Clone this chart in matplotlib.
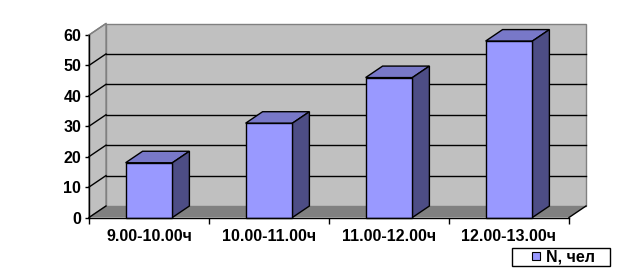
import matplotlib
matplotlib.use("Agg")
import matplotlib.pyplot as plt
from matplotlib.patches import Polygon, Rectangle
from matplotlib.lines import Line2D

# ---- data ----
categories = ["9.00-10.00ч", "10.00-11.00ч", "11.00-12.00ч", "12.00-13.00ч"]
values = [18, 31, 46, 58]
series_name = "N, чел"
yticks = [0, 10, 20, 30, 40, 50, 60]

# ---- style ----
plt.rcParams['font.family'] = ['Liberation Sans', 'DejaVu Sans']
FRONT = '#9999ff'
TOP = '#7878c8'
SIDE = '#4d4d85'
WALL = '#c0c0c0'
FLOOR = '#808080'
FS = 11.5

W, H = 634, 272
fig = plt.figure(figsize=(W / 100, H / 100), dpi=100)
ax_l, ax_r, ax_b, ax_t = 89, 569, 217.5, 35
ax = fig.add_axes([ax_l / W, (H - ax_b) / H, (ax_r - ax_l) / W, (ax_b - ax_t) / H])
n = len(categories)
ymax = yticks[-1]
ax.set_xlim(0, n)
ax.set_ylim(0, ymax)

# depth offset in pixels -> data units
DX_PX, DY_PX = 17, 11.5
ddx = DX_PX * n / (ax_r - ax_l)
ddy = DY_PX * ymax / (ax_b - ax_t)

# walls
back = Polygon([(ddx, ddy), (n + ddx, ddy), (n + ddx, ymax + ddy), (ddx, ymax + ddy)],
               closed=True, facecolor=WALL, edgecolor='#808080', lw=1.0, clip_on=False, zorder=1)
ax.add_patch(back)
left = Polygon([(0, 0), (ddx, ddy), (ddx, ymax + ddy), (0, ymax)],
               closed=True, facecolor=WALL, edgecolor='#808080', lw=1.0, clip_on=False, zorder=1)
ax.add_patch(left)

# gridlines
for v in yticks[1:-1]:
    ax.plot([ddx, n + ddx], [v + ddy, v + ddy], color='black', lw=1.0, clip_on=False, zorder=2)
    ax.plot([0, ddx], [v, v + ddy], color='black', lw=1.0, clip_on=False, zorder=2)
ax.plot([0, ddx], [ymax, ymax + ddy], color='#808080', lw=1.0, clip_on=False, zorder=2)

# floor
floor = Polygon([(0, 0), (n, 0), (n + ddx, ddy), (ddx, ddy)],
                closed=True, facecolor=FLOOR, edgecolor='none', clip_on=False, zorder=3)
ax.add_patch(floor)
ax.plot([n, n + ddx], [0, ddy], color='black', lw=1.0, clip_on=False, zorder=3)
ax.plot([0, ddx], [0, ddy], color='black', lw=1.0, clip_on=False, zorder=3)

# bars
bw = 0.39
centers = [i + 0.5 for i in range(n)]
ax.bar(centers, values, width=bw, color=FRONT, edgecolor='black', lw=1.0, zorder=6, clip_on=False)
for c, v in zip(centers, values):
    x0, x1 = c - bw / 2, c + bw / 2
    top = Polygon([(x0, v), (x1, v), (x1 + ddx, v + ddy), (x0 + ddx, v + ddy)],
                  closed=True, facecolor=TOP, edgecolor='black', lw=1.0, clip_on=False, zorder=5)
    side = Polygon([(x1, 0), (x1 + ddx, ddy), (x1 + ddx, v + ddy), (x1, v)],
                   closed=True, facecolor=SIDE, edgecolor='black', lw=1.0, clip_on=False, zorder=5)
    ax.add_patch(top)
    ax.add_patch(side)

# axes
for s in ['top', 'right']:
    ax.spines[s].set_visible(False)
for s in ['left', 'bottom']:
    ax.spines[s].set_color('black')
    ax.spines[s].set_linewidth(1.0)
    ax.spines[s].set_zorder(7)
ax.set_facecolor('none')
ax.set_yticks(yticks)
ax.set_yticklabels([str(t) for t in yticks], fontsize=FS, fontweight='bold')
ax.tick_params(axis='y', direction='out', length=3, width=1, pad=2.5)
ax.set_xticks(centers)
ax.set_xticklabels(categories, fontsize=FS, fontweight='bold')
ax.set_xticks(range(n + 1), minor=True)
ax.tick_params(axis='x', which='major', length=0, pad=8)
ax.tick_params(axis='x', which='minor', direction='out', length=4, width=1)

# legend
fig.patches.append(Rectangle((512 / W, 1 - 266 / H), 98 / W, 18 / H, transform=fig.transFigure,
                             facecolor='white', edgecolor='black', lw=1.0))
handle = Line2D([], [], marker='s', linestyle='none', markersize=6,
                markerfacecolor=FRONT, markeredgecolor='black', markeredgewidth=0.8)
fig.legend([handle], [series_name], loc='center', bbox_to_anchor=(563 / W, 1 - 257 / H),
           frameon=False, handlelength=0.7, handletextpad=0.3, borderpad=0,
           prop={'size': FS, 'weight': 'bold'})

fig.savefig('out.png', dpi=100, facecolor='white')
